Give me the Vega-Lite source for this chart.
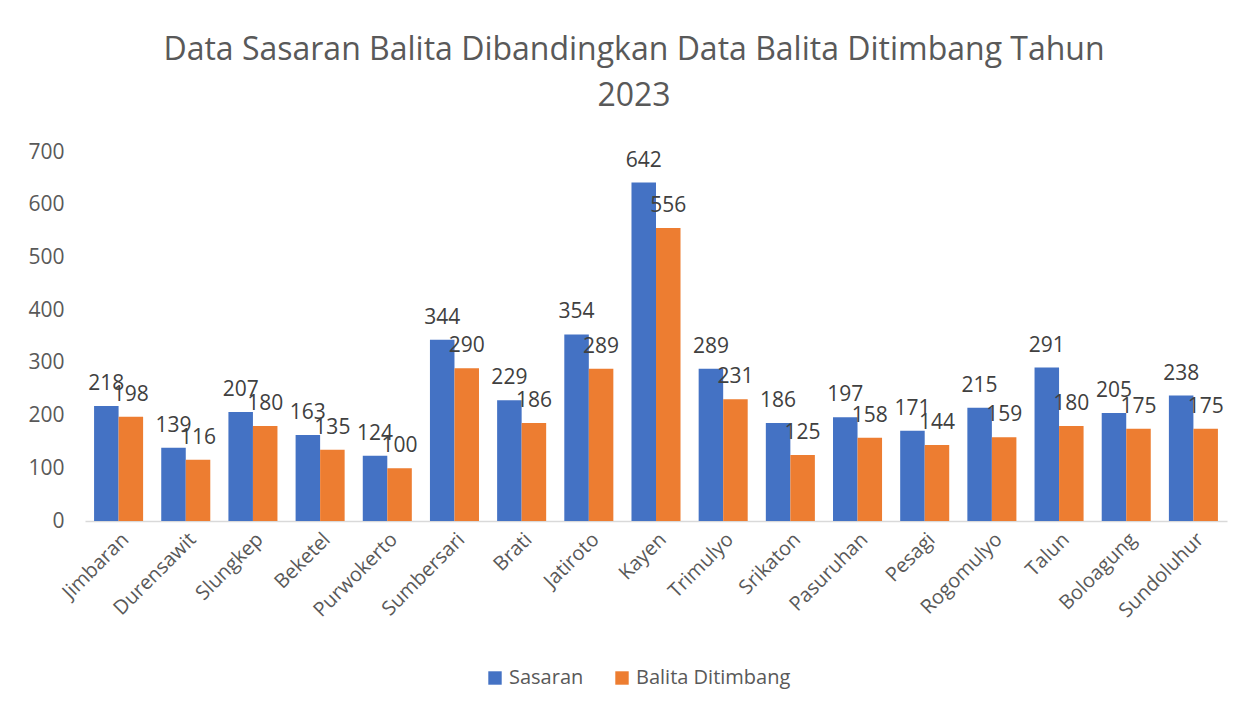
{
  "$schema": "https://vega.github.io/schema/vega-lite/v6.json",
  "autosize": {"type": "none"},
  "padding": {"left": 85, "top": 152, "right": 29, "bottom": 191},
  "width": 1142,
  "height": 369,
  "background": "white",
  "title": {
    "text": ["Data Sasaran Balita Dibandingkan Data Balita Ditimbang Tahun", "2023"],
    "fontSize": 32,
    "font": "Open Sans",
    "fontWeight": "normal",
    "color": "#595959",
    "anchor": "middle",
    "offset": 28,
    "dx": -22,
    "lineHeight": 46
  },
  "data": {
    "values": [
      {"desa": "Jimbaran", "seri": "Sasaran", "nilai": 218},
      {"desa": "Jimbaran", "seri": "Balita Ditimbang", "nilai": 198},
      {"desa": "Durensawit", "seri": "Sasaran", "nilai": 139},
      {"desa": "Durensawit", "seri": "Balita Ditimbang", "nilai": 116},
      {"desa": "Slungkep", "seri": "Sasaran", "nilai": 207},
      {"desa": "Slungkep", "seri": "Balita Ditimbang", "nilai": 180},
      {"desa": "Beketel", "seri": "Sasaran", "nilai": 163},
      {"desa": "Beketel", "seri": "Balita Ditimbang", "nilai": 135},
      {"desa": "Purwokerto", "seri": "Sasaran", "nilai": 124},
      {"desa": "Purwokerto", "seri": "Balita Ditimbang", "nilai": 100},
      {"desa": "Sumbersari", "seri": "Sasaran", "nilai": 344},
      {"desa": "Sumbersari", "seri": "Balita Ditimbang", "nilai": 290},
      {"desa": "Brati", "seri": "Sasaran", "nilai": 229},
      {"desa": "Brati", "seri": "Balita Ditimbang", "nilai": 186},
      {"desa": "Jatiroto", "seri": "Sasaran", "nilai": 354},
      {"desa": "Jatiroto", "seri": "Balita Ditimbang", "nilai": 289},
      {"desa": "Kayen", "seri": "Sasaran", "nilai": 642},
      {"desa": "Kayen", "seri": "Balita Ditimbang", "nilai": 556},
      {"desa": "Trimulyo", "seri": "Sasaran", "nilai": 289},
      {"desa": "Trimulyo", "seri": "Balita Ditimbang", "nilai": 231},
      {"desa": "Srikaton", "seri": "Sasaran", "nilai": 186},
      {"desa": "Srikaton", "seri": "Balita Ditimbang", "nilai": 125},
      {"desa": "Pasuruhan", "seri": "Sasaran", "nilai": 197},
      {"desa": "Pasuruhan", "seri": "Balita Ditimbang", "nilai": 158},
      {"desa": "Pesagi", "seri": "Sasaran", "nilai": 171},
      {"desa": "Pesagi", "seri": "Balita Ditimbang", "nilai": 144},
      {"desa": "Rogomulyo", "seri": "Sasaran", "nilai": 215},
      {"desa": "Rogomulyo", "seri": "Balita Ditimbang", "nilai": 159},
      {"desa": "Talun", "seri": "Sasaran", "nilai": 291},
      {"desa": "Talun", "seri": "Balita Ditimbang", "nilai": 180},
      {"desa": "Boloagung", "seri": "Sasaran", "nilai": 205},
      {"desa": "Boloagung", "seri": "Balita Ditimbang", "nilai": 175},
      {"desa": "Sundoluhur", "seri": "Sasaran", "nilai": 238},
      {"desa": "Sundoluhur", "seri": "Balita Ditimbang", "nilai": 175}
    ]
  },
  "encoding": {
    "x": {
      "field": "desa",
      "type": "nominal",
      "sort": null,
      "scale": {"paddingInner": 0.27, "paddingOuter": 0.135},
      "axis": {
        "title": null,
        "labelAngle": -45,
        "labelFontSize": 20,
        "labelFont": "Open Sans",
        "labelColor": "#595959",
        "ticks": false,
        "domainColor": "#d9d9d9",
        "domainWidth": 1.5,
        "labelPadding": 8
      }
    },
    "xOffset": {
      "field": "seri",
      "type": "nominal",
      "sort": ["Sasaran", "Balita Ditimbang"],
      "scale": {"paddingInner": 0, "paddingOuter": 0}
    },
    "y": {
      "field": "nilai",
      "type": "quantitative",
      "scale": {"domain": [0, 700], "nice": false},
      "axis": {
        "title": null,
        "values": [0, 100, 200, 300, 400, 500, 600, 700],
        "grid": false,
        "domain": false,
        "ticks": false,
        "labelFontSize": 21,
        "labelFont": "Open Sans",
        "labelColor": "#595959",
        "labelPadding": 21
      }
    }
  },
  "layer": [
    {
      "mark": {"type": "bar"},
      "encoding": {
        "color": {
          "field": "seri",
          "type": "nominal",
          "scale": {"domain": ["Sasaran", "Balita Ditimbang"], "range": ["#4472C4", "#ED7D31"]},
          "legend": {
            "title": null,
            "orient": "none",
            "legendX": 400,
            "legendY": 516,
            "direction": "horizontal",
            "symbolType": "square",
            "symbolSize": 180,
            "labelFontSize": 20,
            "labelFont": "Open Sans",
            "labelColor": "#595959",
            "columnPadding": 28
          }
        }
      }
    },
    {
      "mark": {"type": "text", "baseline": "alphabetic", "dy": -16, "fontSize": 21, "font": "Open Sans", "color": "#404040"},
      "encoding": {
        "text": {"field": "nilai", "type": "quantitative"}
      }
    }
  ],
  "config": {
    "view": {"stroke": null}
  }
}
